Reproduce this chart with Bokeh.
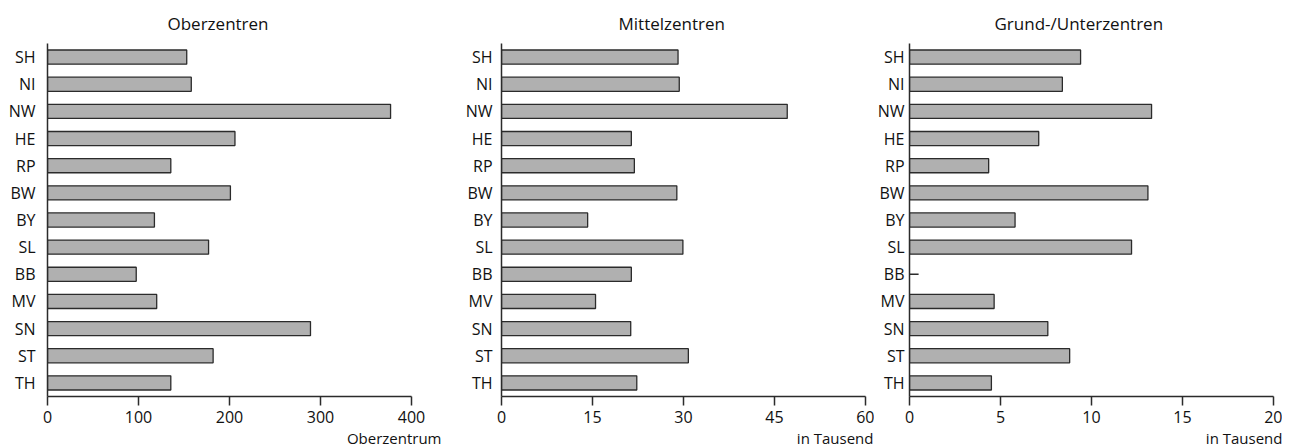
from bokeh.plotting import figure
from bokeh.layouts import row
from bokeh.models import Title, FixedTicker
from bokeh.embed import file_html
from bokeh.resources import INLINE

states = ["SH", "NI", "NW", "HE", "RP", "BW", "BY", "SL", "BB", "MV", "SN", "ST", "TH"]

ober = [153, 158, 377, 206, 135.5, 201, 117.5, 177, 97.5, 120, 289, 182, 135.5]
mittel = [29.1, 29.3, 47.1, 21.4, 21.9, 28.9, 14.2, 29.9, 21.4, 15.5, 21.3, 30.8, 22.3]
grund = [9.4, 8.4, 13.3, 7.1, 4.35, 13.1, 5.8, 12.2, None, 4.65, 7.6, 8.8, 4.5]
grund_dash_state = ["BB"]
grund_dash_len = [0.5]

titles = ["Oberzentren", "Mittelzentren", "Grund-/Unterzentren"]
units = ["Oberzentrum", "in Tausend", "in Tausend"]
x_max = [400, 60, 20]
x_ticks = [[0, 100, 200, 300, 400], [0, 15, 30, 45, 60], [0, 5, 10, 15, 20]]

FONT = "Open Sans"
DARK = "#2b2b2b"
FILL = "#b0b0b0"
TXT = "#111111"

FW = 364
widths = [458, 416, 408]
left_b = [47, 43, 35]
title_left = [120, 117, 85]
unit_off = [-30, -8, -9]
label_standoff = [12, 9, 5]

figs = []
for i, vals in enumerate([ober, mittel, grund]):
    p = figure(width=widths[i], height=448, y_range=list(reversed(states)),
               x_range=(0, x_max[i]), output_backend="svg", toolbar_location=None,
               min_border_left=left_b[i], min_border_right=widths[i] - left_b[i] - FW,
               min_border_top=43, min_border_bottom=52)
    p.title = None
    t = Title(text=titles[i], align="left", offset=title_left[i],
              text_font=FONT, text_font_size="17px", text_font_style="normal",
              text_color=TXT, standoff=18)
    p.add_layout(t, "above")
    u = Title(text=units[i], align="right", offset=unit_off[i],
              text_font=FONT, text_font_size="15px", text_font_style="normal",
              text_color=TXT, standoff=0)
    p.add_layout(u, "below")

    ys = [s for s, v in zip(states, vals) if v is not None]
    xs = [v for v in vals if v is not None]
    p.hbar(y=ys, right=xs, left=0, height=0.52, fill_color=FILL,
           line_color=DARK, line_width=1.3)
    if i == 2:
        p.segment(x0=[0] * len(grund_dash_len), x1=grund_dash_len,
                  y0=grund_dash_state, y1=grund_dash_state,
                  line_color=DARK, line_width=1.5)

    p.outline_line_color = None
    p.grid.grid_line_color = None
    p.background_fill_color = "white"
    p.border_fill_color = "white"

    xa = p.xaxis[0]
    xa.ticker = FixedTicker(ticks=x_ticks[i])
    xa.axis_line_color = DARK
    xa.axis_line_width = 1.5
    xa.major_tick_line_color = DARK
    xa.major_tick_line_width = 1.5
    xa.major_tick_out = 9
    xa.major_tick_in = 0
    xa.minor_tick_line_color = None
    xa.major_label_standoff = 5
    xa.major_label_text_font = FONT
    xa.major_label_text_font_size = "16px"
    xa.major_label_text_color = TXT

    ya = p.yaxis[0]
    ya.axis_line_color = DARK
    ya.axis_line_width = 1.5
    ya.major_tick_line_color = None
    ya.minor_tick_line_color = None
    ya.major_tick_out = 0
    ya.major_tick_in = 0
    ya.major_label_standoff = label_standoff[i]
    ya.major_label_text_font = FONT
    ya.major_label_text_font_size = "16px"
    ya.major_label_text_color = TXT
    p.y_range.range_padding = 0
    figs.append(p)

layout = row(*figs)
open("out.html", "w").write(file_html(layout, INLINE))
